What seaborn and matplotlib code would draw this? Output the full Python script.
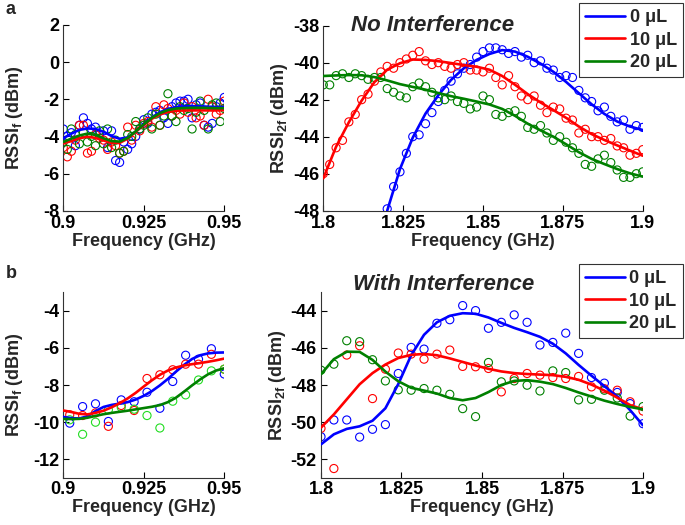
"""RSSI at f and 2f versus frequency, without and with interference"""

import numpy as np
import pandas as pd
import matplotlib
matplotlib.use("Agg")
import matplotlib.pyplot as plt
import seaborn as sns

LABELS = ["0 \u03bcL", "10 \u03bcL", "20 \u03bcL"]
COLORS = ["#0000ff", "#ff0000", "#008000"]

# ---- panel a, fundamental (f) ----
A_F_PTS_X = np.linspace(0.9, 0.95, 41)
A_F_BLUE = [-3.6, -4.0, -3.8, -4.5, -3.4, -3.0, -3.3, -3.6, -3.5, -3.9, -3.7,
            -4.6, -3.7, -5.3, -5.4, -4.3, -4.7, -4.4, -4.0, -3.6, -3.1, -3.3,
            -2.8, -2.7, -2.6, -3.0, -3.3, -2.4, -2.2, -2.1, -2.1, -2.0, -3.0,
            -2.3, -2.2, -3.4, -3.5, -3.3, -2.4, -2.2, -1.9]
A_F_RED = [-4.6, -5.1, -4.8, -4.2, -3.4, -3.4, -4.9, -4.8, -3.9, -4.1, -4.2,
           -4.7, -4.3, -4.5, -4.9, -4.8, -3.5, -4.2, -3.4, -3.7, -3.3, -3.2,
           -3.5, -2.4, -3.4, -2.3, -2.5, -2.9, -2.6, -2.8, -2.2, -2.7, -2.4,
           -3.0, -2.9, -3.4, -2.0, -2.4, -2.8, -2.6, -2.1]
A_F_GREEN = [-4.3, -4.7, -3.6, -3.9, -4.4, -3.8, -4.3, -4.0, -4.5, -3.7, -4.4,
             -3.6, -4.6, -4.2, -4.9, -4.8, -3.9, -4.0, -3.2, -3.6, -3.4, -3.0,
             -3.6, -2.8, -3.4, -2.9, -1.7, -2.9, -3.2, -2.4, -2.6, -2.5, -3.6,
             -2.7, -2.1, -2.6, -3.6, -2.3, -2.2, -3.2, -2.5]
A_F_FIT_X = np.linspace(0.9, 0.95, 21)
A_F_FIT_BLUE = [-4.10, -3.85, -3.65, -3.57, -3.60, -3.75, -3.98, -4.13, -4.05,
                -3.75, -3.35, -2.98, -2.70, -2.52, -2.42, -2.38, -2.37, -2.38,
                -2.40, -2.42, -2.42]
A_F_FIT_RED = [-4.37, -4.25, -4.10, -4.02, -4.08, -4.22, -4.35, -4.35, -4.12,
               -3.75, -3.38, -3.05, -2.82, -2.68, -2.62, -2.60, -2.60, -2.60,
               -2.60, -2.60, -2.58]
A_F_FIT_GREEN = [-4.30, -4.12, -3.95, -3.85, -3.92, -4.10, -4.25, -4.28, -4.08,
                 -3.72, -3.35, -3.00, -2.75, -2.58, -2.50, -2.47, -2.46, -2.46,
                 -2.47, -2.48, -2.48]

# ---- panel a, second harmonic (2f) ----
A_2F_PTS_X = np.linspace(1.8, 1.9, 51)
A_2F_BLUE_X = A_2F_PTS_X[10:]
A_2F_BLUE = [-47.9, -46.7, -45.9, -44.9, -44.0, -43.9, -43.3, -42.7, -42.1,
             -41.5, -41.0, -40.6, -40.3, -40.1, -39.7, -39.4, -39.2, -39.2,
             -39.3, -39.5, -39.4, -39.7, -39.6, -40.0, -39.9, -40.3, -40.4,
             -40.8, -40.7, -40.8, -41.5, -41.9, -42.1, -42.6, -42.4, -42.9,
             -43.2, -43.1, -43.6, -43.4, -43.5]
A_2F_RED = [-46.0, -45.5, -44.6, -44.2, -43.2, -42.8, -42.0, -41.7, -41.0,
            -40.5, -40.2, -40.3, -40.0, -39.8, -39.6, -39.4, -39.9, -40.1,
            -40.0, -40.2, -40.3, -40.1, -40.0, -40.4, -40.4, -40.5, -40.3,
            -40.8, -41.2, -40.7, -41.3, -41.8, -42.0, -41.8, -42.3, -42.7,
            -42.4, -42.5, -43.0, -43.1, -43.8, -43.6, -44.0, -44.0, -44.2,
            -44.1, -44.5, -44.6, -45.0, -44.9, -44.7]
A_2F_GREEN = [-41.2, -41.2, -40.7, -40.6, -40.8, -40.6, -40.7, -40.9, -40.8,
              -40.8, -41.4, -41.6, -41.8, -41.9, -41.3, -41.1, -41.3, -41.6,
              -41.9, -42.0, -41.8, -42.1, -42.2, -42.5, -42.4, -41.8, -42.0,
              -42.8, -42.9, -42.7, -42.6, -42.9, -43.5, -43.6, -43.4, -43.8,
              -44.2, -44.0, -44.3, -44.6, -44.9, -45.5, -45.6, -45.2, -45.0,
              -45.4, -45.8, -46.2, -46.2, -46.0, -45.9]
A_2F_FIT_X = np.linspace(1.8, 1.9, 26)
A_2F_FIT_BLUE_X = A_2F_FIT_X[5:]
A_2F_FIT_BLUE = [-48.00, -45.75, -44.05, -42.75, -41.76, -40.93, -40.30,
                 -39.85, -39.53, -39.32, -39.40, -39.68, -40.05, -40.49,
                 -41.04, -41.65, -42.25, -42.77, -43.18, -43.45, -43.64]
A_2F_FIT_RED = [-46.25, -44.54, -43.22, -42.05, -41.05, -40.38, -40.03, -39.83,
                -39.85, -39.92, -40.02, -40.13, -40.22, -40.38, -40.72, -41.19,
                -41.70, -42.15, -42.56, -42.98, -43.45, -43.86, -44.18, -44.47,
                -44.75, -45.03]
A_2F_FIT_GREEN = [-40.72, -40.69, -40.67, -40.68, -40.78, -40.96, -41.16,
                  -41.31, -41.46, -41.64, -41.81, -41.95, -42.10, -42.26,
                  -42.50, -42.87, -43.30, -43.66, -44.00, -44.41, -44.84,
                  -45.20, -45.48, -45.75, -45.98, -46.16]

# ---- panel b, fundamental (f) ----
B_F_PTS_X = np.linspace(0.902, 0.95, 13)
B_F_BLUE = [-10.05, -9.16, -9.01, -9.96, -8.80, -8.90, -8.39, -9.25, -7.81,
            -6.40, -6.61, -6.05, -7.41]
B_F_RED = [-9.60, -9.64, -9.50, -10.22, -9.10, -9.37, -7.65, -7.45, -7.18,
           -6.88, -6.88, -6.35, -7.15]
B_F_GREEN = [-9.87, -10.65, -10.00, -9.33, -9.20, -9.30, -9.64, -10.31, -8.87,
             -8.53, -7.73, -7.24, -7.15]
B_F_FIT_X = np.linspace(0.9, 0.95, 21)
B_F_FIT_BLUE = [-9.72, -9.78, -9.80, -9.68, -9.40, -9.18, -9.07, -9.00, -8.92,
                -8.78, -8.58, -8.33, -8.02, -7.67, -7.28, -6.92, -6.60, -6.40,
                -6.30, -6.26, -6.25]
B_F_FIT_RED = [-9.37, -9.45, -9.55, -9.58, -9.50, -9.38, -9.20, -8.98, -8.72,
               -8.42, -8.08, -7.75, -7.45, -7.22, -7.06, -6.95, -6.88, -6.82,
               -6.75, -6.67, -6.58]
B_F_FIT_GREEN = [-9.82, -9.83, -9.82, -9.76, -9.66, -9.57, -9.50, -9.44, -9.38,
                 -9.31, -9.24, -9.17, -9.08, -8.92, -8.68, -8.36, -8.02, -7.70,
                 -7.42, -7.22, -7.10]

# ---- panel b, second harmonic (2f) ----
B_2F_X = np.linspace(1.8, 1.9, 26)
B_2F_BLUE = [-50.78, -49.88, -49.88, -50.80, -50.38, -50.13, -47.38, -45.98,
             -46.07, -44.68, -44.49, -43.73, -44.00, -44.95, -44.63, -44.23,
             -44.63, -45.85, -45.71, -45.21, -46.30, -47.60, -47.90, -48.40,
             -49.00, -50.08]
B_2F_RED = [-50.33, -52.49, -46.39, -45.89, -48.73, -47.15, -46.28, -46.34,
            -46.61, -46.34, -46.12, -47.00, -47.02, -47.11, -48.37, -47.65,
            -47.38, -47.47, -47.60, -47.65, -47.54, -48.10, -48.20, -48.28,
            -48.90, -49.40]
B_2F_GREEN = [-47.20, -46.88, -45.62, -45.67, -46.64, -47.78, -48.26, -48.28,
              -48.19, -48.28, -48.50, -49.27, -49.70, -46.79, -47.83, -47.78,
              -48.01, -48.32, -47.24, -47.33, -48.80, -48.77, -48.28, -48.70,
              -49.67, -49.16]
B_2F_FIT_BLUE = [-51.19, -50.65, -50.36, -50.22, -49.92, -49.25, -47.95,
                 -46.40, -45.30, -44.63, -44.28, -44.14, -44.17, -44.37,
                 -44.66, -44.93, -45.16, -45.41, -45.78, -46.30, -46.92,
                 -47.50, -48.06, -48.62, -49.35, -50.17]
B_2F_FIT_RED = [-50.29, -49.58, -48.77, -47.96, -47.36, -46.90, -46.55, -46.38,
                -46.33, -46.40, -46.57, -46.76, -46.95, -47.13, -47.27, -47.36,
                -47.41, -47.44, -47.47, -47.56, -47.72, -47.98, -48.30, -48.68,
                -49.08, -49.31]
B_2F_FIT_GREEN = [-47.42, -46.61, -46.21, -46.22, -46.65, -47.28, -47.80,
                  -48.15, -48.30, -48.46, -48.70, -48.82, -48.70, -48.38,
                  -48.00, -47.78, -47.74, -47.82, -47.95, -48.16, -48.40,
                  -48.62, -48.84, -49.02, -49.18, -49.31]

sns.set_style("ticks")
plt.rcParams["font.family"] = ["Liberation Sans", "DejaVu Sans"]
plt.rcParams["font.weight"] = "bold"
plt.rcParams["axes.unicode_minus"] = False
plt.rcParams["mathtext.fontset"] = "custom"
plt.rcParams["mathtext.rm"] = "Liberation Sans:bold"
plt.rcParams["mathtext.bf"] = "Liberation Sans:bold"


def draw(ax, pts, fits, marker_colors):
    handles = []
    for (xp, yp), (xf, yf), c, mc in zip(pts, fits, COLORS, marker_colors):
        sns.scatterplot(data=pd.DataFrame({"f": xp, "rssi": yp}), x="f", y="rssi",
                        ax=ax, marker="o", s=34, facecolor="none", edgecolor=mc,
                        linewidth=0.8, zorder=2, legend=False)
        sns.lineplot(data=pd.DataFrame({"f": xf, "rssi": yf}), x="f", y="rssi",
                     ax=ax, color=c, linewidth=1.9, zorder=3, legend=False)
        handles.append(ax.lines[-1])
    return handles


def style(ax, xlim, xticks, xticklabels, ylim, yticks, ylabel, ylab_x, xlab_y,
          xpad=3):
    ax.set_xlim(xlim)
    ax.set_ylim(ylim)
    ax.set_xticks(xticks)
    ax.set_xticklabels(xticklabels)
    ax.set_yticks(yticks)
    ax.set_yticklabels([str(t) for t in yticks])
    ax.tick_params(direction="in", length=4, width=0.8, labelsize=13, pad=3,
                   colors="black")
    ax.tick_params(axis="x", pad=xpad)
    sns.despine(ax=ax)
    for s in ["left", "bottom"]:
        ax.spines[s].set_linewidth(0.8)
        ax.spines[s].set_color("#333333")
    ax.set_xlabel("Frequency (GHz)", fontsize=13, fontweight="bold")
    ax.set_ylabel(ylabel, fontsize=13, fontweight="bold")
    ax.xaxis.set_label_coords(0.5, xlab_y)
    ax.yaxis.set_label_coords(ylab_x, 0.5)


def add_legend(ax, handles, x1, y1):
    leg = ax.legend(handles, LABELS, loc="upper right", bbox_to_anchor=(x1, y1),
                    borderaxespad=0, frameon=True, fancybox=False,
                    prop={"size": 13, "weight": "bold"}, handlelength=2.2,
                    handletextpad=0.25, labelspacing=0.3, borderpad=0.35)
    leg.get_frame().set_edgecolor("black")
    leg.get_frame().set_linewidth(0.8)


fig = plt.figure(figsize=(6.85, 5.25), dpi=100)
ax1 = fig.add_axes([0.0924, 0.5987, 0.2350, 0.3537])
ax2 = fig.add_axes([0.4720, 0.5987, 0.4663, 0.3524])
ax3 = fig.add_axes([0.0924, 0.0895, 0.2350, 0.3543])
ax4 = fig.add_axes([0.4686, 0.0895, 0.4701, 0.3543])

draw(ax1,
     [(A_F_PTS_X, A_F_BLUE), (A_F_PTS_X, A_F_RED), (A_F_PTS_X, A_F_GREEN)],
     [(A_F_FIT_X, A_F_FIT_BLUE), (A_F_FIT_X, A_F_FIT_RED), (A_F_FIT_X, A_F_FIT_GREEN)],
     COLORS)
style(ax1, (0.9, 0.95), [0.9, 0.925, 0.95], ["0.9", "0.925", "0.95"],
      (-8, 2), [-8, -6, -4, -2, 0, 2], r"RSSI$_\mathrm{f}$ (dBm)", -0.238, -0.118)

h2 = draw(ax2,
          [(A_2F_BLUE_X, A_2F_BLUE), (A_2F_PTS_X, A_2F_RED), (A_2F_PTS_X, A_2F_GREEN)],
          [(A_2F_FIT_BLUE_X, A_2F_FIT_BLUE), (A_2F_FIT_X, A_2F_FIT_RED),
           (A_2F_FIT_X, A_2F_FIT_GREEN)],
          COLORS)
style(ax2, (1.8, 1.9), [1.8, 1.825, 1.85, 1.875, 1.9],
      ["1.8", "1.825", "1.85", "1.875", "1.9"],
      (-48, -38), [-48, -46, -44, -42, -40, -38], r"RSSI$_\mathrm{2f}$ (dBm)",
      -0.104, -0.118)
ax2.text(0.342, 1.0, "No Interference", transform=ax2.transAxes, ha="center",
         va="center", fontsize=16, fontweight="bold", fontstyle="italic")
add_legend(ax2, h2, 1.126, 1.123)

draw(ax3,
     [(B_F_PTS_X, B_F_BLUE), (B_F_PTS_X, B_F_RED), (B_F_PTS_X, B_F_GREEN)],
     [(B_F_FIT_X, B_F_FIT_BLUE), (B_F_FIT_X, B_F_FIT_RED), (B_F_FIT_X, B_F_FIT_GREEN)],
     ["#0000ff", "#ff0000", "#22dd22"])
style(ax3, (0.9, 0.95), [0.9, 0.925, 0.95], ["0.9", "0.925", "0.95"],
      (-13, -3), [-12, -10, -8, -6, -4], r"RSSI$_\mathrm{f}$ (dBm)", -0.238, -0.112,
      xpad=2)

h4 = draw(ax4,
          [(B_2F_X, B_2F_BLUE), (B_2F_X, B_2F_RED), (B_2F_X, B_2F_GREEN)],
          [(B_2F_X, B_2F_FIT_BLUE), (B_2F_X, B_2F_FIT_RED), (B_2F_X, B_2F_FIT_GREEN)],
          COLORS)
style(ax4, (1.8, 1.9), [1.8, 1.825, 1.85, 1.875, 1.9],
      ["1.8", "1.825", "1.85", "1.875", "1.9"],
      (-53, -43), [-52, -50, -48, -46, -44], r"RSSI$_\mathrm{2f}$ (dBm)",
      -0.102, -0.112, xpad=2)
ax4.text(0.38, 1.038, "With Interference", transform=ax4.transAxes, ha="center",
         va="center", fontsize=16, fontweight="bold", fontstyle="italic")
add_legend(ax4, h4, 1.124, 1.151)

fig.text(11 / 685, 1 - 10 / 525, "a", ha="center", va="center", fontsize=13,
         fontweight="bold")
fig.text(11 / 685, 1 - 274 / 525, "b", ha="center", va="center", fontsize=13,
         fontweight="bold")

fig.savefig("out.png", dpi=100)
